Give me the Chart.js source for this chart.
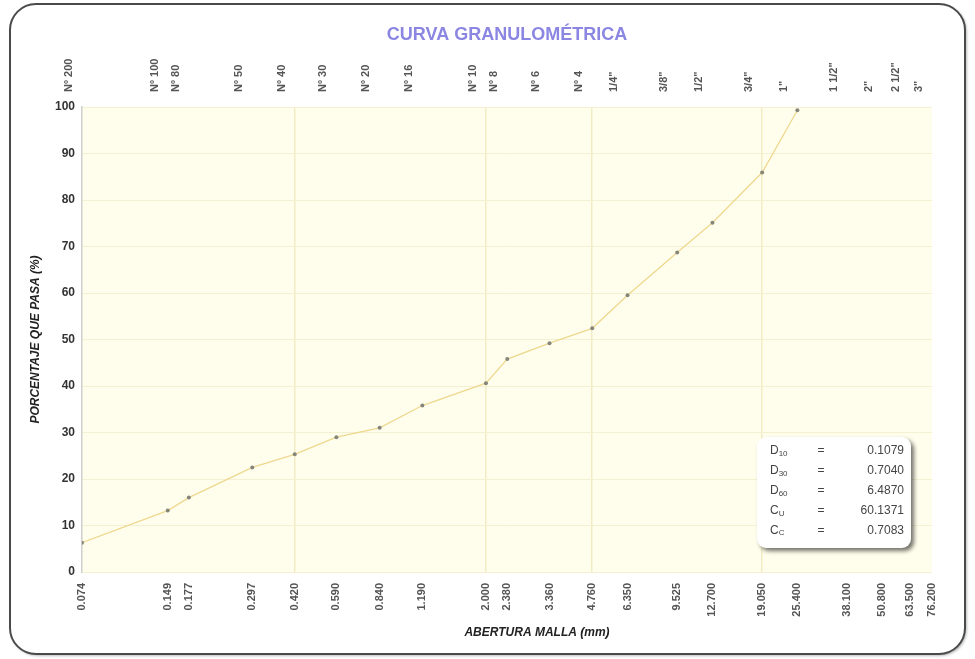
<!DOCTYPE html>
<html>
<head>
<meta charset="utf-8">
<title>Curva granulométrica</title>
<script src="https://cdn.jsdelivr.net/npm/chart.js@4.4.0/dist/chart.umd.min.js"></script>
<style>
  html, body { margin: 0; padding: 0; background: #ffffff; }
  #wrap { position: relative; width: 975px; height: 659px; }
</style>
</head>
<body>
<div id="wrap"><canvas id="chart"></canvas></div>
<script>
// Sieve designations (top axis) and their openings in mm (bottom axis)
const sieveNames = ['Nº 200', 'Nº 100', 'Nº 80', 'Nº 50', 'Nº 40', 'Nº 30', 'Nº 20', 'Nº 16',
  'Nº 10', 'Nº 8', 'Nº 6', 'Nº 4', '1/4"', '3/8"', '1/2"', '3/4"', '1"', '1 1/2"', '2"', '2 1/2"', '3"'];
const sieveOpenings = [0.074, 0.149, 0.177, 0.297, 0.420, 0.590, 0.840, 1.190,
  2.000, 2.380, 3.360, 4.760, 6.350, 9.525, 12.700, 19.050, 25.400, 38.100, 50.800, 63.500, 76.200];
// Percentage passing, one value per sieve from Nº 200 up to 1"
const passingPercent = [6.3, 13.2, 16.0, 22.5, 25.3, 29.0, 31.0, 35.8,
  40.6, 45.8, 49.2, 52.4, 59.5, 68.7, 75.1, 85.9, 99.3];
// Y axis ticks
const yTicks = [0, 10, 20, 30, 40, 50, 60, 70, 80, 90, 100];
// Sieves that carry a vertical reference line
const gridSieves = [0.420, 2.000, 4.760, 19.050];
// Characteristic diameters and coefficients
const paramSymbols = [['D', '10'], ['D', '30'], ['D', '60'], ['C', 'U'], ['C', 'C']];
const paramValues = ['0.1079', '0.7040', '6.4870', '60.1371', '0.7083'];

const FONT = "'Liberation Sans', Arial, Helvetica, sans-serif";

const points = passingPercent.map((p, i) => ({ x: sieveOpenings[i], y: p }));
const sieveTicks = sieveOpenings.map(v => ({ value: v }));

const framePlugin = {
  id: 'frame',
  beforeDraw(chart) {
    const ctx = chart.ctx;
    const a = chart.chartArea;
    ctx.save();
    // outer rounded frame
    ctx.shadowColor = 'rgba(0,0,0,0.35)';
    ctx.shadowBlur = 3;
    ctx.shadowOffsetX = 1.5;
    ctx.shadowOffsetY = 1.5;
    ctx.beginPath();
    ctx.roundRect(10, 4, 955, 650, 26);
    ctx.fillStyle = '#ffffff';
    ctx.fill();
    ctx.shadowColor = 'transparent';
    ctx.lineWidth = 2;
    ctx.strokeStyle = '#4a4a4a';
    ctx.stroke();
    // plot background
    ctx.fillStyle = '#fffeec';
    ctx.fillRect(a.left, a.top, a.right - a.left, a.bottom - a.top);
    ctx.restore();
  },
  afterDraw(chart) {
    const ctx = chart.ctx;
    ctx.save();
    // x axis caption
    ctx.fillStyle = '#222222';
    ctx.font = 'italic bold 12px ' + FONT;
    ctx.textAlign = 'center';
    ctx.textBaseline = 'middle';
    ctx.fillText('ABERTURA MALLA (mm)', 537, 633);

    // parameter box
    ctx.shadowColor = 'rgba(0,0,0,0.55)';
    ctx.shadowBlur = 4;
    ctx.shadowOffsetX = 3;
    ctx.shadowOffsetY = 3;
    ctx.beginPath();
    ctx.roundRect(757, 437, 154, 111, 9);
    ctx.fillStyle = '#ffffff';
    ctx.fill();
    ctx.shadowColor = 'transparent';
    ctx.fillStyle = '#444444';
    paramSymbols.forEach((sym, i) => {
      const y = 451 + i * 19.8;
      ctx.textBaseline = 'middle';
      ctx.textAlign = 'left';
      ctx.font = '12px ' + FONT;
      ctx.fillText(sym[0], 770, y);
      const w = ctx.measureText(sym[0]).width;
      ctx.font = '8px ' + FONT;
      ctx.fillText(sym[1], 770 + w, y + 3);
      ctx.font = '12px ' + FONT;
      ctx.textAlign = 'center';
      ctx.fillText('=', 821, y);
      ctx.textAlign = 'right';
      ctx.fillText(paramValues[i], 904, y);
    });
    ctx.restore();
  }
};

new Chart(document.getElementById('chart'), {
  type: 'line',
  data: {
    datasets: [{
      data: points,
      xAxisID: 'x',
      yAxisID: 'y',
      borderColor: '#eed890',
      borderWidth: 1.3,
      pointRadius: 2,
      pointBackgroundColor: '#85857a',
      pointBorderWidth: 0,
      tension: 0,
      fill: false
    }]
  },
  options: {
    responsive: true,
    maintainAspectRatio: false,
    animation: false,
    events: [],
    layout: { padding: { left: 0, right: 43, top: 0, bottom: 0 } },
    plugins: {
      legend: { display: false },
      tooltip: { enabled: false },
      title: {
        display: true,
        fullSize: false,
        text: 'CURVA GRANULOMÉTRICA',
        color: '#8a86e2',
        font: { family: FONT, size: 18, weight: 'bold' },
        padding: { top: 24, bottom: 0 }
      }
    },
    scales: {
      x: {
        type: 'logarithmic',
        position: 'bottom',
        min: 0.074,
        max: 76.2,
        afterBuildTicks: s => { s.ticks = sieveTicks.map(t => ({ value: t.value })); },
        afterFit: s => { s.height = 87; s.paddingLeft = 0; s.paddingRight = 0; },
        ticks: {
          autoSkip: false,
          minRotation: 90,
          maxRotation: 90,
          padding: 11,
          color: '#555555',
          font: { family: FONT, size: 11, weight: 'bold' },
          callback: v => Number(v).toFixed(3)
        },
        grid: {
          drawTicks: false,
          color: c => (c.tick && gridSieves.includes(c.tick.value)) ? '#f1ecc4' : 'rgba(0,0,0,0)',
          lineWidth: 1.5
        },
        border: { display: false }
      },
      x2: {
        type: 'logarithmic',
        axis: 'x',
        position: 'top',
        min: 0.074,
        max: 76.2,
        afterBuildTicks: s => { s.ticks = sieveTicks.map(t => ({ value: t.value })); },
        afterFit: s => { s.height = 61.4; s.paddingLeft = 0; s.paddingRight = 0; },
        ticks: {
          autoSkip: false,
          minRotation: 90,
          maxRotation: 90,
          padding: 15,
          color: '#555555',
          font: { family: FONT, size: 11, weight: 'bold' },
          callback: (v, i) => sieveNames[i]
        },
        grid: { display: false, drawTicks: false },
        border: { display: false }
      },
      y: {
        type: 'linear',
        position: 'left',
        min: 0,
        max: 100,
        afterBuildTicks: s => { s.ticks = yTicks.map(v => ({ value: v })); },
        afterFit: s => { s.width = 82; },
        ticks: {
          padding: 7,
          color: '#333333',
          font: { family: FONT, size: 12, weight: 'bold' }
        },
        grid: { drawTicks: false, color: '#f4f0d2', lineWidth: 1 },
        border: { display: true, color: '#cfcfcf', width: 1.5 },
        title: {
          display: true,
          text: 'PORCENTAJE QUE PASA (%)',
          color: '#222222',
          font: { family: FONT, size: 12, weight: 'bold', style: 'italic' },
          padding: { top: 28, bottom: 0 }
        }
      }
    }
  },
  plugins: [framePlugin]
});
</script>
</body>
</html>
